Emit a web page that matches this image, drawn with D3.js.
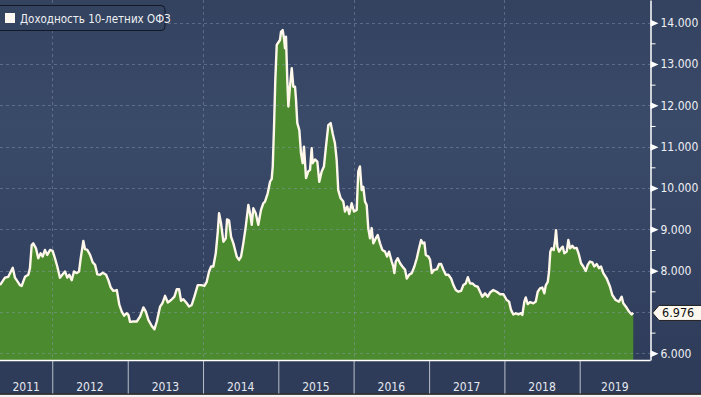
<!DOCTYPE html>
<html><head><meta charset="utf-8">
<script src="https://cdn.jsdelivr.net/npm/d3@7"></script>
<style>html,body{margin:0;padding:0;background:#f2f2f2;overflow:hidden}svg{display:block}</style>
</head><body><svg id="c" width="701" height="397"></svg>
<script>
// ---- data (decimal years, yield %) ----
const years = [
2011.306,2011.372,2011.416,2011.475,2011.505,2011.571,2011.594,2011.638,2011.682,2011.704,
2011.727,2011.748,2011.784,2011.814,2011.846,2011.873,2011.903,2011.934,2011.970,2012.005,
2012.036,2012.067,2012.102,2012.138,2012.169,2012.199,2012.226,2012.258,2012.288,2012.324,
2012.355,2012.377,2012.412,2012.434,2012.465,2012.501,2012.536,2012.567,2012.597,2012.633,
2012.669,2012.713,2012.743,2012.775,2012.810,2012.855,2012.889,2012.921,2012.952,2012.988,
2013.009,2013.031,2013.075,2013.120,2013.164,2013.208,2013.240,2013.274,2013.319,2013.354,
2013.386,2013.430,2013.460,2013.496,2013.532,2013.576,2013.620,2013.651,2013.682,2013.708,
2013.739,2013.784,2013.815,2013.850,2013.885,2013.930,2013.974,2014.018,2014.049,2014.080,
2014.107,2014.137,2014.169,2014.196,2014.213,2014.239,2014.270,2014.302,2014.319,2014.346,
2014.372,2014.403,2014.448,2014.478,2014.505,2014.535,2014.567,2014.602,2014.624,2014.647,
2014.668,2014.700,2014.734,2014.770,2014.801,2014.823,2014.859,2014.890,2014.912,2014.926,
2014.943,2014.960,2014.979,2015.000,2015.022,2015.036,2015.058,2015.075,2015.089,2015.102,
2015.119,2015.133,2015.155,2015.178,2015.199,2015.222,2015.235,2015.252,2015.279,2015.301,
2015.324,2015.341,2015.368,2015.398,2015.421,2015.443,2015.456,2015.487,2015.518,2015.544,
2015.576,2015.606,2015.633,2015.664,2015.695,2015.722,2015.752,2015.775,2015.796,2015.828,
2015.863,2015.885,2015.916,2015.942,2015.974,2016.005,2016.041,2016.062,2016.084,2016.107,
2016.128,2016.151,2016.173,2016.194,2016.217,2016.239,2016.261,2016.293,2016.319,2016.350,
2016.380,2016.416,2016.443,2016.469,2016.505,2016.526,2016.540,2016.558,2016.585,2016.615,
2016.646,2016.682,2016.704,2016.735,2016.770,2016.805,2016.837,2016.867,2016.894,2016.917,
2016.938,2016.956,2016.991,2017.013,2017.036,2017.066,2017.102,2017.133,2017.159,2017.190,
2017.222,2017.256,2017.292,2017.323,2017.355,2017.389,2017.425,2017.455,2017.487,2017.514,
2017.544,2017.575,2017.611,2017.646,2017.677,2017.707,2017.743,2017.779,2017.810,2017.853,
2017.898,2017.943,2017.986,2018.031,2018.062,2018.088,2018.119,2018.151,2018.185,2018.221,
2018.239,2018.265,2018.284,2018.310,2018.341,2018.385,2018.416,2018.443,2018.473,2018.504,
2018.531,2018.549,2018.576,2018.593,2018.610,2018.629,2018.655,2018.673,2018.686,2018.703,
2018.726,2018.752,2018.775,2018.796,2018.828,2018.849,2018.871,2018.902,2018.928,2018.960,
2018.991,2019.018,2019.048,2019.080,2019.107,2019.137,2019.168,2019.194,2019.226,2019.257,
2019.283,2019.314,2019.359,2019.403,2019.433,2019.478,2019.522,2019.558,2019.579,2019.624,
2019.655,2019.690,2019.712
];
const yields = [
7.65,7.83,7.85,8.07,7.83,7.65,7.63,7.85,7.90,8.06,
8.62,8.66,8.54,8.30,8.42,8.34,8.50,8.38,8.50,8.48,
8.30,8.10,7.83,7.91,7.98,7.83,7.90,7.77,7.98,7.94,
7.98,8.30,8.72,8.52,8.50,8.38,8.20,8.14,7.91,7.90,
7.95,7.90,7.77,7.59,7.51,7.53,7.17,7.01,6.91,6.97,
6.93,6.76,6.77,6.77,6.89,7.11,7.01,6.81,6.66,6.58,
6.77,7.13,7.21,7.39,7.23,7.29,7.37,7.55,7.55,7.27,
7.31,7.21,7.13,7.17,7.37,7.65,7.65,7.63,7.73,7.98,
8.10,8.10,8.42,8.94,9.39,9.15,8.70,8.78,9.24,9.21,
8.82,8.66,8.34,8.26,8.34,8.66,9.06,9.59,9.39,9.11,
9.51,9.39,9.11,9.47,9.63,9.67,9.87,10.15,10.22,10.52,
11.48,12.61,13.46,13.52,13.58,13.78,13.82,13.62,13.38,13.66,
12.61,11.97,12.45,12.90,12.45,12.45,12.13,11.57,11.40,10.84,
10.60,11.00,10.24,10.40,10.44,10.96,10.60,10.69,10.64,10.15,
10.40,10.52,11.00,11.52,11.57,11.32,11.08,10.68,9.95,9.75,
9.67,9.43,9.55,9.37,9.63,9.43,9.47,10.40,10.52,9.95,
10.03,9.67,9.59,9.03,8.78,9.03,8.66,8.78,8.86,8.66,
8.50,8.46,8.34,8.46,8.22,8.10,7.94,8.22,8.30,8.18,
8.10,8.02,7.81,7.90,7.94,8.10,8.30,8.54,8.74,8.66,
8.68,8.38,8.34,8.26,7.94,8.02,8.03,8.16,8.16,8.02,
7.90,7.90,7.81,7.65,7.53,7.49,7.51,7.65,7.69,7.84,
7.69,7.69,7.63,7.61,7.49,7.37,7.45,7.37,7.47,7.53,
7.49,7.43,7.43,7.29,7.25,7.05,6.94,6.97,6.94,6.97,
6.93,7.25,7.35,7.19,7.24,7.21,7.25,7.49,7.57,7.59,
7.45,7.64,7.73,7.98,8.46,8.54,8.50,8.74,8.98,8.58,
8.46,8.54,8.58,8.42,8.46,8.74,8.54,8.60,8.54,8.55,
8.38,8.18,8.10,7.99,8.14,8.22,8.20,8.10,8.16,8.06,
8.10,7.94,7.81,7.61,7.41,7.29,7.25,7.37,7.21,7.10,
7.01,6.94,6.976
];
const yTickValues = [6,7,8,9,10,11,12,13,14];
const yLabelValues = [6,8,9,10,11,12,13,14]; // 7.000 is hidden behind the last-value label
const yMinorValues = [6.5,7.5,8.5,9.5,10.5,11.5,12.5,13.5];
const yearLabels = ["2011","2012","2013","2014","2015","2016","2017","2018","2019"];
const gridYears = [2012,2014,2016,2018];
const xDomainYears = [2011.306, 2019.934];
const yDomain = [5.838, 14.548];
const legendLabel = "Доходность 10-летних ОФЗ";
const lastValue = 6.976;

// ---- helpers ----
function toDate(d){const y=Math.floor(d);const s=new Date(y,0,1),e=new Date(y+1,0,1);return new Date(+s+(d-y)*(e-s));}
const data = years.map((d,i)=>({date:toDate(d), v:yields[i]}));

const W=701,H=397, PW=650, PH=360, BAND=33.5;
const FONT="'DejaVu Sans Condensed','DejaVu Sans',sans-serif";
const svg=d3.select("#c");
const defs=svg.append("defs");
const gr=defs.append("linearGradient").attr("id","bg").attr("x1",0).attr("y1",0).attr("x2",0).attr("y2",1);
gr.append("stop").attr("offset","0%").attr("stop-color","#33425f");
gr.append("stop").attr("offset","35%").attr("stop-color","#3a4a69");
gr.append("stop").attr("offset","100%").attr("stop-color","#2f3d5b");

svg.append("rect").attr("width",W).attr("height",H).attr("fill","#f3f3f3");
svg.append("rect").attr("width",W).attr("height",PH).attr("fill","url(#bg)");
svg.append("rect").attr("y",PH).attr("width",W).attr("height",BAND).attr("fill","#2e3c5a");
svg.append("line").attr("x1",0).attr("x2",W).attr("y1",PH+BAND+0.5).attr("y2",PH+BAND+0.5).attr("stroke","#0c0c0c").attr("stroke-width",1.5);

const x=d3.scaleTime().domain(xDomainYears.map(toDate)).range([0,PW]);
const y=d3.scaleLinear().domain(yDomain).range([PH,0]);

// area + line
const area=d3.area().x(d=>x(d.date)).y0(PH).y1(d=>y(d.v));
const line=d3.line().x(d=>x(d.date)).y(d=>y(d.v));
svg.append("path").datum(data).attr("d",area).attr("fill","#4b8a2e");

// grid
const grid=svg.append("g").attr("stroke","#8c9ab5").attr("stroke-opacity",0.45).attr("stroke-dasharray","3,3").attr("stroke-width",1);
grid.selectAll("line.h").data(yTickValues).join("line").attr("class","h")
  .attr("x1",0).attr("x2",PW).attr("y1",d=>Math.round(y(d))+0.5).attr("y2",d=>Math.round(y(d))+0.5);
grid.selectAll("line.v").data(gridYears).join("line").attr("class","v")
  .attr("x1",d=>Math.round(x(new Date(d,0,1)))+0.5).attr("x2",d=>Math.round(x(new Date(d,0,1)))+0.5).attr("y1",0).attr("y2",PH);

svg.append("path").datum(data).attr("d",line).attr("fill","none").attr("stroke","#fff8ea").attr("stroke-width",2.4).attr("stroke-linejoin","round");

// bottom axis (year separators)
const yearStarts=d3.range(2012,2020).map(yr=>new Date(yr,0,1));
const xa=svg.append("g").attr("transform",`translate(0,${PH})`)
  .call(d3.axisBottom(x).tickValues(yearStarts).tickSize(BAND).tickSizeOuter(0).tickFormat(""));
xa.select(".domain").remove();
xa.selectAll(".tick line").attr("stroke","#b9bec9").attr("stroke-width",1);
svg.append("line").attr("x1",0).attr("x2",PW+0.5).attr("y1",PH+0.5).attr("y2",PH+0.5).attr("stroke","#ffffff").attr("stroke-width",1.5);
svg.append("g").selectAll("text").data(yearLabels).join("text")
  .attr("x",d=>{const a=Math.max(0,x(new Date(+d,0,1))),b=Math.min(PW,x(new Date(+d+1,0,1)));return (a+b)/2;})
  .attr("y",PH+31).attr("text-anchor","middle").attr("fill","#e6e8ee")
  .style("font-family",FONT).style("font-size","12px").text(d=>d);

// right axis
const ya=svg.append("g").attr("transform",`translate(${PW+0.5},0)`)
  .call(d3.axisRight(y).tickValues(yLabelValues).tickSize(0).tickSizeOuter(0).tickPadding(10).tickFormat(d3.format(".3f")));
ya.select(".domain").attr("stroke","#ffffff").attr("stroke-width",1.5);
ya.selectAll(".tick text").attr("fill","#eef0f4").style("font-family",FONT).style("font-size","12px");
ya.selectAll(".tick").append("path").attr("d","M0,-3.5L8,0L0,3.5Z").attr("fill","#ffffff");
const ym=svg.append("g").attr("transform",`translate(${PW+0.5},0)`)
  .call(d3.axisRight(y).tickValues(yMinorValues).tickSize(5).tickFormat(""));
ym.select(".domain").remove();
ym.selectAll(".tick line").attr("stroke","#ffffff").attr("stroke-width",1);

// last value label
const lv=svg.append("g").attr("transform",`translate(${PW+2},${y(lastValue)})`);
lv.append("path").attr("d","M0.5,0L7,-7.5L60,-7.5L60,7.5L7,7.5Z").attr("fill","#fdf8ef").attr("stroke","#222").attr("stroke-width",1);
lv.append("text").attr("x",10).attr("dy","0.36em").attr("fill","#111").style("font-family",FONT).style("font-size","12.5px").text(d3.format(".3f")(lastValue));

// legend
const lg=svg.append("g");
lg.append("rect").attr("x",-5).attr("y",5.5).attr("width",170).attr("height",25).attr("rx",4).attr("fill","#34435f").attr("stroke","#121826").attr("stroke-width",1);
lg.append("rect").attr("x",5).attr("y",13).attr("width",10).attr("height",10).attr("fill","#fff7f2");
lg.append("text").attr("x",20).attr("y",22.5).attr("fill","#eef0f4").style("font-family",FONT).style("font-size","11.5px").text(legendLabel);
</script></body></html>
